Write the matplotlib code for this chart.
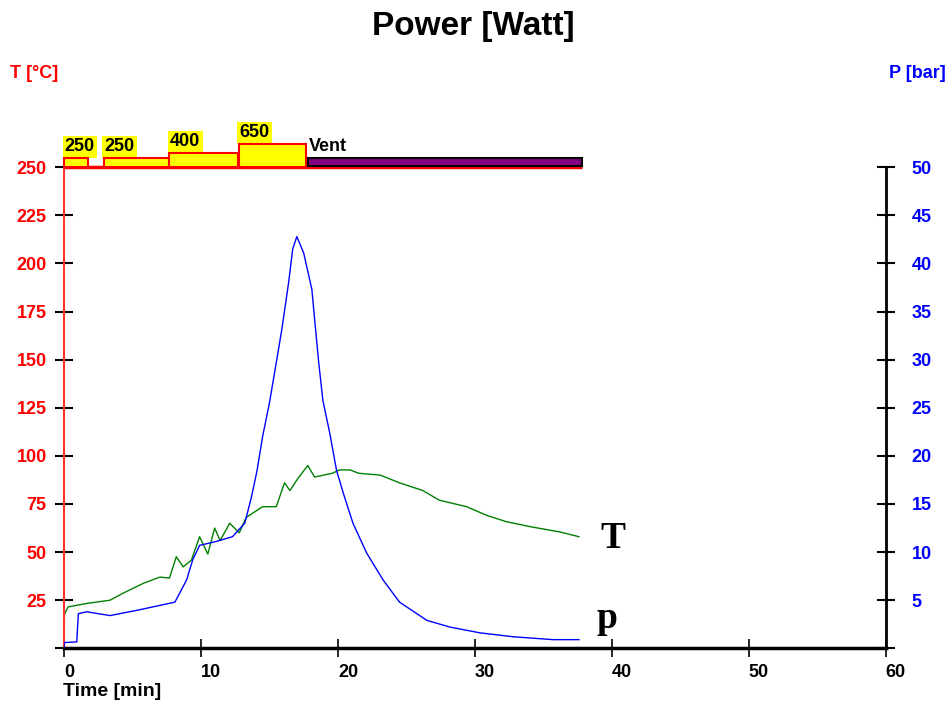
import matplotlib
matplotlib.use('Agg')
import matplotlib.pyplot as plt
from matplotlib.patches import Rectangle

# Temperature trace (time in min, T in degC)
temp_time = [0, 0.05, 0.3, 1.65, 3.36, 4.3, 5.8, 7.0, 7.7, 8.2, 8.7, 9.3, 9.9, 10.5,
             11.0, 11.4, 12.1, 12.8, 13.3, 14.5, 15.5, 16.1, 16.5, 17.1, 17.8, 18.3,
             19.6, 20.1, 20.9, 21.5, 23.1, 24.5, 26.2, 27.4, 29.4, 30.9, 32.3, 34.2,
             36.2, 37.6]
temp_vals = [14.6, 18, 21.5, 23.3, 25, 28.6, 33.8, 37, 36.5, 47.6, 42.3, 45.8, 58, 49,
             62.5, 56, 65, 60, 68, 73.6, 73.6, 86, 82, 88.5, 95, 89,
             91, 92.7, 92.7, 91, 90, 86, 82, 77, 73.6, 69, 65.8, 63,
             60.5, 58]

# Pressure trace (time in min, p in bar)
pres_time = [0, 0.02, 0.93, 1.05, 1.65, 3.36, 5.5, 8.1, 8.95, 9.4, 9.9, 11.1, 12.3,
             13.2, 13.7, 14.1, 14.5, 15.0, 15.5, 15.9, 16.4, 16.7, 17.0, 17.5, 18.1,
             18.3, 18.6, 18.9, 19.4, 19.9, 20.4, 21.1, 22.1, 23.3, 24.5, 26.5, 28.2,
             30.4, 32.8, 35.7, 37.6]
pres_vals = [0, 0.6, 0.66, 3.6, 3.8, 3.4, 4.0, 4.8, 7.1, 9.2, 10.7, 11.1, 11.6,
             13.0, 15.8, 18.5, 22, 25.5, 29.7, 33.1, 38, 41.5, 42.8, 41.1, 37.3,
             34.2, 29.7, 25.8, 22.4, 18.5, 16.1, 13, 9.9, 7.1, 4.8, 2.9, 2.2,
             1.6, 1.2, 0.9, 0.9]

# Power program (min, Watt) and venting step
power_start = [0.0, 2.9, 7.7, 12.75]
power_end = [1.75, 7.7, 12.7, 17.7]
power_watt = [250, 250, 400, 650]
vent_start = 17.8
vent_end = 37.8

x_ticks = [0, 10, 20, 30, 40, 50, 60]
t_ticks = [0, 25, 50, 75, 100, 125, 150, 175, 200, 225, 250]
p_ticks = [0, 5, 10, 15, 20, 25, 30, 35, 40, 45, 50]

plt.rcParams['font.family'] = ['Liberation Sans', 'DejaVu Sans']
plt.rcParams['font.weight'] = 'bold'

W, H = 951, 702
fig = plt.figure(figsize=(W / 100, H / 100), dpi=100)
ax = fig.add_axes([64 / W, (H - 648.3) / H, (885.7 - 64) / W, (648.3 - 167.3) / H])

ax.set_xlim(0, 60)
ax.set_ylim(0, 250)

# temperature curve
ax.plot(temp_time, temp_vals, color='#008000', lw=1.0)

# spines
for side in ['top', 'right']:
    ax.spines[side].set_visible(False)
ax.spines['left'].set_color('#ff3030')
ax.spines['left'].set_linewidth(1.5)
ax.spines['bottom'].set_color('black')
ax.spines['bottom'].set_linewidth(2.5)

ax.set_xticks(x_ticks)
ax.set_xticklabels([str(v) for v in x_ticks], ha='left')
ax.tick_params(axis='x', direction='inout', length=13, width=1.2, color='black',
               labelsize=13, pad=5)
ax.set_yticks(t_ticks)
ax.set_yticklabels([''] + [str(v) for v in t_ticks[1:]])
ax.tick_params(axis='y', direction='inout', length=13, width=1.5, color='black',
               labelcolor='red', labelsize=13, pad=6)

# power program drawn above the plot area
scale = 0.019
ax.plot([0, vent_end], [250, 250], color='red', lw=2.5, clip_on=False, zorder=3,
        solid_capstyle='butt')
for s, e, w in zip(power_start, power_end, power_watt):
    h = w * scale
    ax.add_patch(Rectangle((s, 250), e - s, h, facecolor='yellow', edgecolor='red',
                           lw=1.5, clip_on=False, zorder=4))
    ax.text(s + 0.05, 250 + h + 1.4, str(w), fontsize=13, fontweight='bold', ha='left',
            va='bottom', clip_on=False,
            bbox=dict(facecolor='yellow', edgecolor='none', pad=1.5))
ax.add_patch(Rectangle((vent_start, 250.5), vent_end - vent_start, 4.2,
                       facecolor='#800080', edgecolor='black', lw=1.5,
                       clip_on=False, zorder=4))
ax.text(vent_start + 0.1, 256.5, 'Vent', fontsize=13, fontweight='bold', ha='left',
        va='bottom', clip_on=False)

# pressure on the right axis
ax2 = ax.twinx()
ax2.set_ylim(0, 50)
ax2.plot(pres_time, pres_vals, color='#0000ff', lw=1.0)
for side in ['top', 'left', 'bottom']:
    ax2.spines[side].set_visible(False)
ax2.spines['right'].set_color('black')
ax2.spines['right'].set_linewidth(2)
ax2.set_yticks(p_ticks)
ax2.set_yticklabels([''] + [str(v) for v in p_ticks[1:]])
ax2.tick_params(axis='y', direction='inout', length=13, width=1.5, color='black',
                labelcolor='blue', labelsize=13, pad=12)

# curve labels
ax.text(39.2, 52, 'T', fontsize=27, fontweight='bold', family='Liberation Serif',
        ha='left', va='baseline')
ax.text(38.9, 10.7, 'p', fontsize=27, fontweight='bold', family='Liberation Serif',
        ha='left', va='baseline')

fig.text(473 / W, 1 - 26 / H, 'Power [Watt]', fontsize=24, fontweight='bold',
         ha='center', va='center')
fig.text(10 / W, 1 - 74 / H, 'T [°C]', fontsize=13, fontweight='bold', color='red',
         ha='left', va='center')
fig.text(946 / W, 1 - 74 / H, 'P [bar]', fontsize=13, fontweight='bold', color='blue',
         ha='right', va='center')
fig.text(63 / W, 1 - 691 / H, 'Time [min]', fontsize=14, fontweight='bold',
         ha='left', va='center')

fig.savefig('out.png', dpi=100)
